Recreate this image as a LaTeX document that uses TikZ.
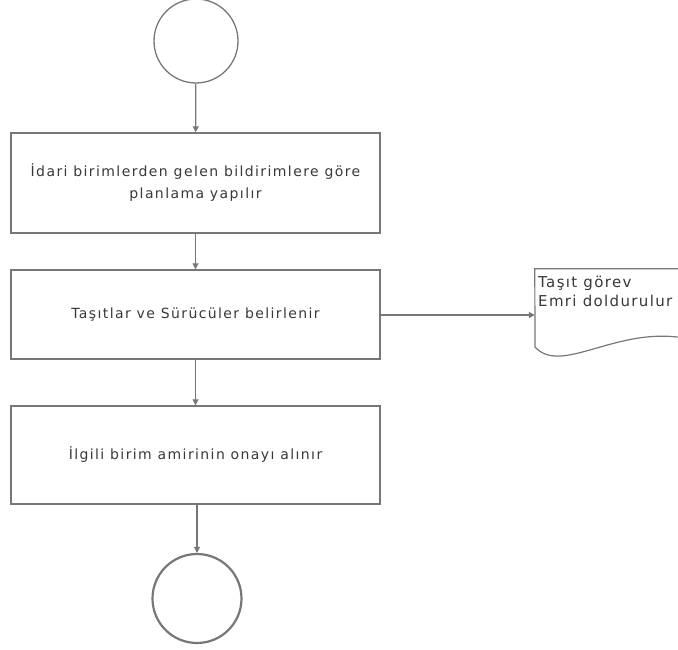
\documentclass[tikz,border=0pt]{standalone}
\usepackage{fontspec}
\setmainfont{DejaVu Sans}
\newfontfamily\fontb[LetterSpace=10]{DejaVu Sans}
\newfontfamily\fontc[LetterSpace=9]{DejaVu Sans}
\usetikzlibrary{arrows.meta}
\definecolor{ln}{HTML}{777777}
\definecolor{tx}{HTML}{383838}
\tikzset{
  conn/.style={draw=ln, line width=1.2pt, -{Triangle[length=6pt,width=6pt]}},
  procbox/.style={draw=ln, line width=1.4pt, rectangle, minimum width=369pt, align=center, inner sep=0pt, text=tx, font=\fontb\fontsize{14}{22}\selectfont},
  term/.style={draw=ln, circle, inner sep=0pt},
  doctext/.style={text=tx, align=left, font=\fontc\fontsize{15}{19}\selectfont, inner sep=0pt, anchor=north west}
}
\begin{document}
\begin{tikzpicture}[x=1pt,y=-1pt]
\useasboundingbox (0,0) rectangle (678,650);
\clip (0,0) rectangle (678,650);
\node[term, line width=1.3pt, minimum size=84pt] (start) at (196,41) {};
\node[procbox, minimum height=100pt] (b1) at (195.5,183) {İdari birimlerden gelen bildirimlere göre\\planlama yapılır};
\node[procbox, minimum height=89pt] (b2) at (195.5,314.5) {Taşıtlar ve Sürücüler belirlenir};
\node[procbox, minimum height=98pt] (b3) at (195.5,455) {İlgili birim amirinin onayı alınır};
\node[term, line width=2.2pt, minimum size=89pt] (end) at (197,598.5) {};
\node[minimum width=165pt, minimum height=81pt, inner sep=0pt] (doc) at (617.5,309.5) {};
\draw[ln, line width=1.2pt] (doc.north east) -- (doc.north west) -- (535,347)
  .. controls (563,378) and (625,318) .. (700,342);
\node[doctext] (dt) at (538,276) {Taşıt görev\\Emri doldurulur};
\draw[conn] (start) -- (b1);
\draw[conn] (b1) -- (b2);
\draw[conn] (b2) -- (b3);
\draw[conn] (b3.south -| end) -- (end);
\draw[conn] (b2.east |- 0,315) -- (doc.west |- 0,315);
\end{tikzpicture}
\end{document}
